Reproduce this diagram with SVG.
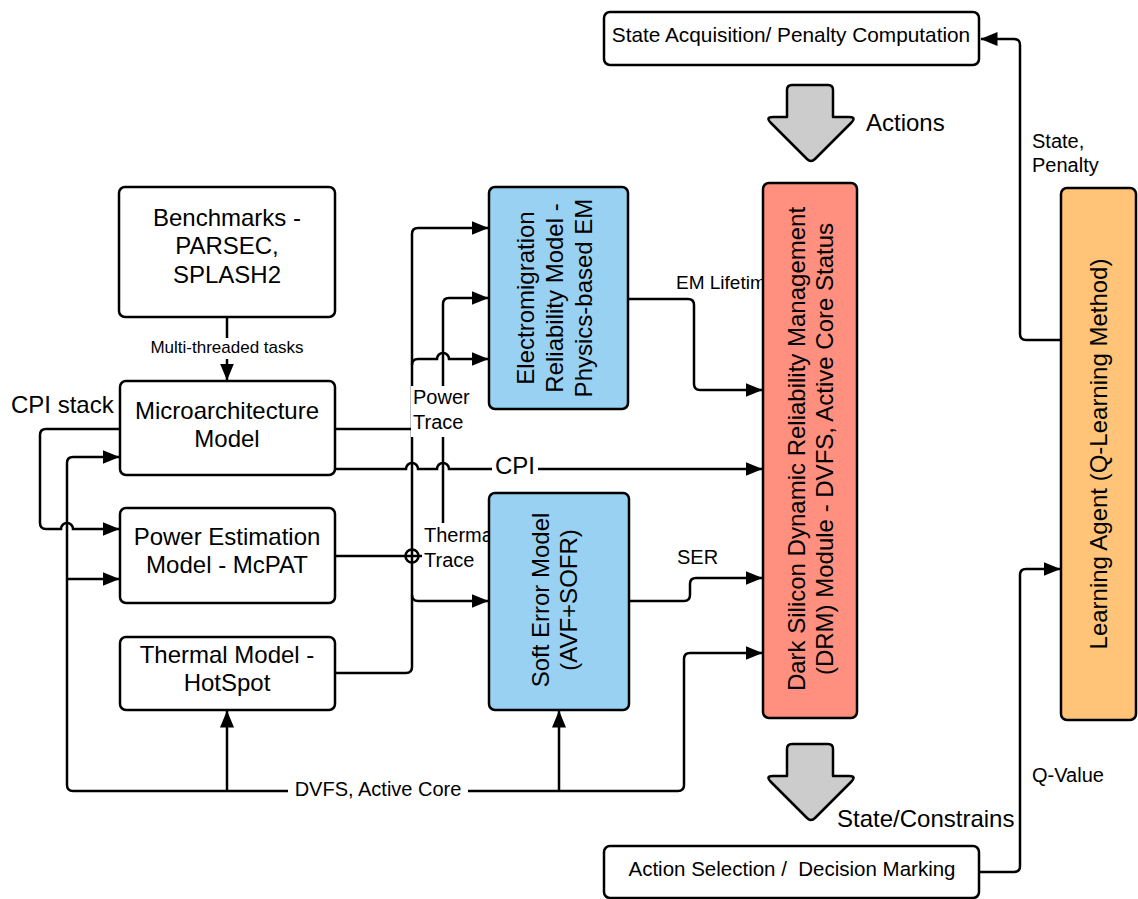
<svg xmlns="http://www.w3.org/2000/svg" width="1138" height="899" viewBox="0 0 1138 899">
<style>
  text{font-family:"Liberation Sans",Arial,sans-serif;fill:#000}
  .box{stroke:#000;stroke-width:2.5}
  .w{fill:#fff}
  .blue{fill:#99D1F3}
  .red{fill:#FF8F7F}
  .org{fill:#FFC477}
  .c{fill:none;stroke:#000;stroke-width:2.5}
  .n{font-size:24px;text-anchor:middle}
  .l{font-size:20px}
  .bg{fill:#fff}
  .big{fill:#CCCCCC;stroke:#000;stroke-width:2.5;stroke-linejoin:round}
</style>
<defs>
  <marker id="ah" markerUnits="userSpaceOnUse" markerWidth="18" markerHeight="15" refX="16.5" refY="7.5" orient="auto">
    <path d="M0,0.5 L17,7.5 L0,14.5 Z" fill="#000"/>
  </marker>
</defs>
<rect width="1138" height="899" fill="#fff"/>

<g id="connectors">
  <!-- Benchmarks -> Micro -->
  <path class="c" d="M227,317 V380" marker-end="url(#ah)"/>
  <rect class="bg" x="146" y="338" width="162" height="21"/>
  <text x="227" y="353" style="font-size:17px;text-anchor:middle">Multi-threaded tasks</text>

  <!-- CPI stack loop -->
  <path class="c" d="M120,429 H46 Q40,429 40,435 V523 Q40,529 46,529 H61 A6,6 0 0 1 73,529 H119" marker-end="url(#ah)"/>
  <text x="11" y="413" style="font-size:24px">CPI stack</text>

  <!-- DVFS network -->
  <path class="c" d="M684,785 V659 Q684,653 690,653 H762" marker-end="url(#ah)"/>
  <path class="c" d="M73,791 H678 Q684,791 684,785"/>
  <path class="c" d="M73,791 Q67,791 67,785 V463 Q67,457 73,457 H119" marker-end="url(#ah)"/>
  <path class="c" d="M67,579 H119" marker-end="url(#ah)"/>
  <path class="c" d="M227,791 V711" marker-end="url(#ah)"/>
  <path class="c" d="M559,791 V711" marker-end="url(#ah)"/>
  <rect class="bg" x="288" y="779" width="180" height="22"/>
  <text x="378" y="796" style="font-size:20px;text-anchor:middle">DVFS, Active Core</text>

  <!-- Micro -> trunk -->
  <path class="c" d="M335,429 H412"/>
  <!-- Thermal -> trunk -> EM / SE -->
  <path class="c" d="M335,673 H406 Q412,673 412,667 V234 Q412,228 418,228 H488" marker-end="url(#ah)"/>
  <path class="c" d="M412,365 Q412,359 418,359 H437 A6,6 0 0 1 449,359 H488" marker-end="url(#ah)"/>
  <path class="c" d="M412,595 Q412,601 418,601 H488" marker-end="url(#ah)"/>
  <!-- Power -> EM -->
  <path class="c" d="M335,556 H437 Q443,556 443,550 V304 Q443,298 449,298 H488" marker-end="url(#ah)"/>
  <circle cx="412" cy="556" r="6.5" fill="none" stroke="#000" stroke-width="2.5"/>
  <!-- CPI -->
  <path class="c" d="M335,469 H406 A6,6 0 0 1 418,469 H437 A6,6 0 0 1 449,469 H762" marker-end="url(#ah)"/>
  <rect class="bg" x="492" y="453" width="46" height="24"/>
  <text x="515" y="474" style="font-size:24px;text-anchor:middle">CPI</text>

  <rect class="bg" x="411" y="386" width="64" height="51"/>
  <text class="l" x="413" y="404">Power</text>
  <text class="l" x="413" y="429">Trace</text>
  <rect class="bg" x="422" y="523" width="70" height="28"/>
  <rect class="bg" x="422" y="551" width="70" height="21"/>
  <text class="l" x="424" y="542">Thermal</text>
  <text class="l" x="424" y="567">Trace</text>

  <!-- EM -> DRM -->
  <path class="c" d="M628,299 H688 Q694,299 694,305 V384 Q694,390 700,390 H762" marker-end="url(#ah)"/>
  <text x="676" y="289" style="font-size:19px">EM Lifetime</text>
  <!-- SE -> DRM -->
  <path class="c" d="M629,601 H684 Q690,601 690,595 V584 Q690,578 696,578 H762" marker-end="url(#ah)"/>
  <text class="l" x="677" y="564">SER</text>

  <!-- LA -> State Acq -->
  <path class="c" d="M1061,340 H1026 Q1020,340 1020,334 V45 Q1020,39 1014,39 H981" marker-end="url(#ah)"/>
  <text class="l" x="1032" y="148">State,</text>
  <text class="l" x="1032" y="172">Penalty</text>
  <!-- Action Sel -> LA -->
  <path class="c" d="M980,872 H1014 Q1020,872 1020,866 V575 Q1020,569 1026,569 H1060" marker-end="url(#ah)"/>
  <text class="l" x="1032" y="782">Q-Value</text>

  <!-- big gray arrows -->
  <path class="big" d="M787,90 Q787,85 792,85 H828 Q833,85 833,90 V117 H849 Q857,117 851,123 L815,159 Q811,163 807,159 L771,123 Q765,117 773,117 H787 Z"/>
  <text x="866" y="131" style="font-size:24px">Actions</text>
  <path class="big" transform="translate(0,659)" d="M787,90 Q787,85 792,85 H828 Q833,85 833,90 V117 H849 Q857,117 851,123 L815,159 Q811,163 807,159 L771,123 Q765,117 773,117 H787 Z"/>
  <text x="837" y="827" style="font-size:24px">State/Constrains</text>
</g>

<g id="benchmarks">
  <rect class="box w" x="119" y="187" width="216" height="130" rx="6"/>
  <text class="n" x="227" y="226">Benchmarks -</text>
  <text class="n" x="227" y="254">PARSEC,</text>
  <text class="n" x="227" y="283">SPLASH2</text>
</g>
<g id="micro">
  <rect class="box w" x="120" y="381" width="215" height="94" rx="6"/>
  <text class="n" x="227" y="419">Microarchitecture</text>
  <text class="n" x="227" y="447">Model</text>
</g>
<g id="power">
  <rect class="box w" x="120" y="508" width="215" height="95" rx="6"/>
  <text class="n" x="227" y="545">Power Estimation</text>
  <text class="n" x="227" y="573">Model - McPAT</text>
</g>
<g id="thermal">
  <rect class="box w" x="120" y="637" width="215" height="73" rx="6"/>
  <text class="n" x="227" y="663">Thermal Model -</text>
  <text class="n" x="227" y="691">HotSpot</text>
</g>
<g id="em">
  <rect class="box blue" x="489" y="187" width="139" height="222" rx="6"/>
  <g transform="translate(0,298)">
    <text class="n" transform="translate(534,0) rotate(-90)">Electromigration</text>
    <text class="n" transform="translate(563,0) rotate(-90)">Reliability Model -</text>
    <text class="n" transform="translate(592,0) rotate(-90)">Physics-based EM</text>
  </g>
</g>
<g id="softerror">
  <rect class="box blue" x="489" y="493" width="140" height="217" rx="6"/>
  <text class="n" transform="translate(549,600) rotate(-90)">Soft Error Model</text>
  <text class="n" transform="translate(577,600) rotate(-90)">(AVF+SOFR)</text>
</g>
<g id="drm">
  <rect class="box red" x="763" y="183" width="94" height="535" rx="6"/>
  <text class="n" transform="translate(805,449) rotate(-90)">Dark Silicon Dynamic Reliability Management</text>
  <text class="n" transform="translate(833,449) rotate(-90)">(DRM) Module - DVFS, Active Core Status</text>
</g>
<g id="learning">
  <rect class="box org" x="1061" y="188" width="75" height="532" rx="6"/>
  <text class="n" transform="translate(1107,454) rotate(-90)">Learning Agent (Q-Learning Method)</text>
</g>
<g id="stateacq">
  <rect class="box w" x="604" y="12" width="375" height="53" rx="6"/>
  <text x="791" y="42" style="font-size:20.8px;text-anchor:middle">State Acquisition/ Penalty Computation</text>
</g>
<g id="actionsel">
  <rect class="box w" x="604" y="846" width="375" height="52" rx="6"/>
  <text x="792" y="876" style="font-size:20.5px;text-anchor:middle;white-space:pre" xml:space="preserve">Action Selection /  Decision Marking</text>
</g>
</svg>
